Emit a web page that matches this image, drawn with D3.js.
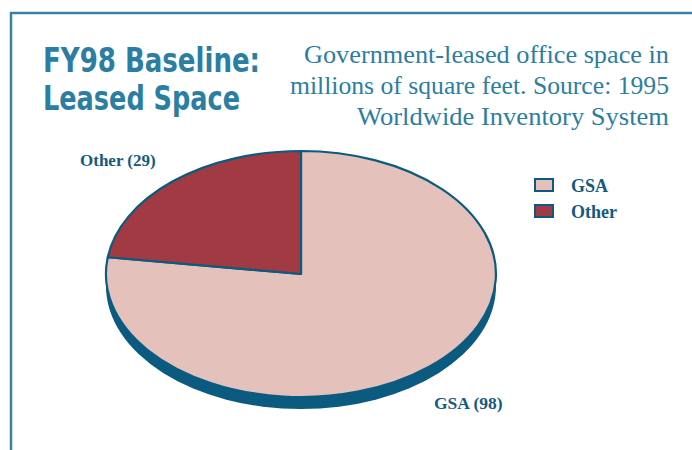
<!DOCTYPE html>
<html>
<head>
<meta charset="utf-8">
<script src="https://cdn.jsdelivr.net/npm/d3@7"></script>
<style>
  body { margin: 0; background: #fff; }
  svg { display: block; }
</style>
</head>
<body>
<svg id="chart" width="692" height="450"></svg>
<script>
// data (millions of sq ft)
var categories = ['GSA', 'Other'];
var values = [98, 29];
var colors = ['#e4c1bb', '#a13a43'];

var width = 692, height = 450;
var cx = 301, cy = 274, rx = 195, ry = 123, depth = 12;
var edge = '#0b5a80';
var teal = '#2b7ea1';

var svg = d3.select('#chart');

// frame
svg.append('path')
  .attr('d', 'M11,450 L11,13 L692,13')
  .attr('fill', 'none')
  .attr('stroke', '#3683a6')
  .attr('stroke-width', 2.5);

// title (squeezed to look condensed)
var titleLines = [['FY98 Baseline:', 72, 217], ['Leased Space', 110, 197]];
svg.append('g').selectAll('text')
  .data(titleLines)
  .enter()
  .append('text')
  .attr('x', 43)
  .attr('y', function (d) { return d[1]; })
  .attr('textLength', function (d) { return d[2]; })
  .attr('lengthAdjust', 'spacingAndGlyphs')
  .attr('font-family', '"DejaVu Sans", sans-serif')
  .attr('font-weight', 'bold')
  .attr('font-size', 33)
  .attr('fill', teal)
  .text(function (d) { return d[0]; });

// subtitle
var sub = [['Government-leased office space in', 63, 365],
           ['millions of square feet. Source: 1995', 94, 379],
           ['Worldwide Inventory System', 125, 312]];
svg.append('g').selectAll('text')
  .data(sub)
  .enter()
  .append('text')
  .attr('x', 669)
  .attr('y', function (d) { return d[1]; })
  .attr('text-anchor', 'end')
  .attr('textLength', function (d) { return d[2]; })
  .attr('lengthAdjust', 'spacingAndGlyphs')
  .attr('font-family', '"Liberation Serif", "DejaVu Serif", serif')
  .attr('font-size', 24.5)
  .attr('fill', teal)
  .text(function (d) { return d[0]; });

// pie
var pie = d3.pie().sort(null).value(function (d) { return d; });
var arcs = pie(values);
var arc = d3.arc().innerRadius(0).outerRadius(1);

var g = svg.append('g');

// side wall (depth)
g.append('ellipse')
  .attr('cx', cx).attr('cy', cy + depth)
  .attr('rx', rx).attr('ry', ry)
  .attr('fill', edge);
g.append('rect')
  .attr('x', cx - rx).attr('y', cy)
  .attr('width', rx * 2).attr('height', depth)
  .attr('fill', edge);

g.append('g')
  .attr('transform', 'translate(' + cx + ',' + cy + ') scale(' + rx + ',' + ry + ')')
  .selectAll('path')
  .data(arcs)
  .enter()
  .append('path')
  .attr('d', arc)
  .attr('fill', function (d, i) { return colors[i]; })
  .attr('stroke', edge)
  .attr('stroke-width', 2.2)
  .attr('stroke-linejoin', 'round')
  .attr('vector-effect', 'non-scaling-stroke');

// slice labels
var labelFont = '"Liberation Serif", "DejaVu Serif", serif';
svg.append('text')
  .attr('x', 80).attr('y', 166)
  .attr('font-family', labelFont).attr('font-weight', 'bold').attr('font-size', 17)
  .attr('fill', '#145a80')
  .text(categories[1] + ' (' + values[1] + ')');
svg.append('text')
  .attr('x', 434).attr('y', 409)
  .attr('font-family', labelFont).attr('font-weight', 'bold').attr('font-size', 17.5)
  .attr('fill', '#145a80')
  .text(categories[0] + ' (' + values[0] + ')');

// legend
var legend = svg.append('g').attr('transform', 'translate(535,179)');
var item = legend.selectAll('g')
  .data(categories)
  .enter()
  .append('g')
  .attr('transform', function (d, i) { return 'translate(0,' + i * 26 + ')'; });
item.append('rect')
  .attr('width', 18).attr('height', 12)
  .attr('fill', function (d, i) { return colors[i]; })
  .attr('stroke', edge)
  .attr('stroke-width', 2);
item.append('text')
  .attr('x', 36).attr('y', 13)
  .attr('font-family', labelFont).attr('font-weight', 'bold').attr('font-size', 18)
  .attr('fill', '#145a80')
  .text(function (d) { return d; });
</script>
</body>
</html>
